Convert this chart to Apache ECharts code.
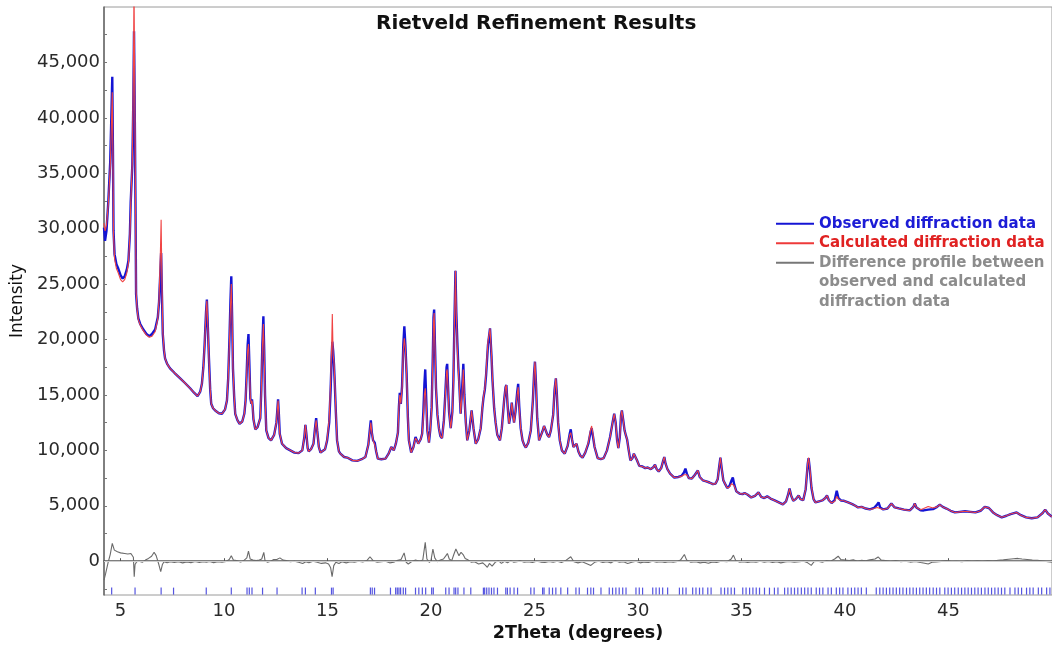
<!DOCTYPE html>
<html>
<head>
<meta charset="utf-8">
<title>Rietveld Refinement Results</title>
<script src="https://cdn.jsdelivr.net/npm/echarts@6/dist/echarts.min.js"></script>
<style>
  html, body { margin: 0; padding: 0; background: #ffffff; }
  #chart { width: 1052px; height: 648px; }
</style>
</head>
<body>
<div id="chart"></div>
<script>
// Powder pattern: [2theta (deg), intensity (counts)]
const observed = [
  [4.20,30100],[4.25,28900],[4.32,29800],[4.41,32500],[4.50,36000],[4.56,40500],[4.60,43700],[4.63,37500],
  [4.66,29800],[4.71,27700],[4.80,26800],[4.89,26400],[5.00,25800],[5.10,25500],[5.20,25700],[5.30,26300],
  [5.38,27100],[5.45,29500],[5.49,32400],[5.57,35800],[5.62,42000],[5.65,47800],[5.68,42000],[5.72,32400],
  [5.75,24100],[5.80,22800],[5.86,21900],[5.95,21400],[6.10,20900],[6.25,20500],[6.39,20300],[6.52,20500],
  [6.67,20900],[6.80,22000],[6.86,23400],[6.92,26000],[6.96,27800],[7.00,24000],[7.04,20500],[7.10,19000],
  [7.15,18300],[7.25,17800],[7.39,17400],[7.60,17000],[7.88,16500],[8.10,16100],[8.36,15600],[8.55,15200],
  [8.72,14900],[8.85,15300],[8.93,16000],[9.00,17500],[9.06,19500],[9.13,22500],[9.17,23600],[9.21,21500],
  [9.27,18300],[9.33,15500],[9.38,14200],[9.47,13800],[9.57,13600],[9.75,13350],[9.90,13300],[10.05,13700],
  [10.14,14500],[10.20,16500],[10.26,20000],[10.31,23500],[10.35,25700],[10.39,22000],[10.43,17400],[10.49,14800],
  [10.54,13300],[10.65,12700],[10.75,12400],[10.88,12600],[10.98,13300],[11.04,14500],[11.09,16800],[11.14,19500],
  [11.18,20500],[11.22,18000],[11.27,14700],[11.32,14200],[11.35,14600],[11.38,14000],[11.42,12800],[11.51,11900],
  [11.62,12100],[11.75,12900],[11.80,15500],[11.85,19500],[11.90,22100],[11.94,19000],[11.98,15000],[12.04,11800],
  [12.15,11100],[12.27,10900],[12.42,11400],[12.53,12500],[12.58,13800],[12.61,14600],[12.65,13200],[12.69,11500],
  [12.80,10600],[13.00,10200],[13.20,10000],[13.40,9800],[13.60,9750],[13.78,10000],[13.88,11200],[13.93,12300],
  [13.97,11600],[14.04,10200],[14.09,9900],[14.20,10100],[14.32,10600],[14.40,12100],[14.45,12900],[14.50,11800],
  [14.58,10300],[14.66,9800],[14.74,9700],[14.88,10100],[14.98,10900],[15.08,12500],[15.15,15500],[15.20,18500],
  [15.23,19800],[15.27,19000],[15.31,17800],[15.35,16000],[15.40,13500],[15.46,10900],[15.55,9900],[15.62,9700],
  [15.80,9400],[15.95,9350],[16.20,9100],[16.43,9050],[16.65,9200],[16.83,9400],[16.97,10500],[17.05,12000],
  [17.09,12700],[17.14,11600],[17.20,10900],[17.28,10700],[17.35,9900],[17.43,9250],[17.60,9200],[17.80,9250],
  [17.95,9700],[18.08,10300],[18.20,10000],[18.30,10600],[18.40,11600],[18.45,14000],[18.49,15200],[18.54,14200],
  [18.60,15800],[18.66,19500],[18.71,21200],[18.76,19500],[18.82,16900],[18.88,13000],[18.93,10900],[19.04,9800],
  [19.15,10300],[19.25,11200],[19.32,10900],[19.38,10600],[19.50,11000],[19.57,11500],[19.63,13500],[19.68,16000],
  [19.72,17300],[19.77,14500],[19.82,11800],[19.90,10700],[19.96,11800],[20.03,13900],[20.08,18000],[20.12,22000],
  [20.15,22700],[20.19,19500],[20.24,15600],[20.31,13200],[20.38,12000],[20.45,11300],[20.53,11100],[20.62,12700],
  [20.69,15100],[20.75,17500],[20.78,17800],[20.82,15800],[20.87,13500],[20.95,12000],[21.03,13500],[21.08,16300],
  [21.13,21500],[21.18,26200],[21.22,22500],[21.27,19800],[21.32,17500],[21.36,16200],[21.43,13300],[21.50,15500],
  [21.56,17800],[21.61,15000],[21.68,12500],[21.75,10900],[21.85,11800],[21.96,13600],[22.05,12000],[22.16,10600],
  [22.28,11000],[22.40,12000],[22.48,13800],[22.53,14700],[22.60,15500],[22.66,16800],[22.75,19500],[22.85,21000],
  [22.92,18500],[22.97,16300],[23.05,13800],[23.12,12500],[23.20,11400],[23.33,10900],[23.42,12000],[23.53,14500],
  [23.60,15700],[23.64,15900],[23.70,14000],[23.77,12400],[23.84,13200],[23.90,14300],[23.96,13200],[24.01,12500],
  [24.08,13500],[24.16,15200],[24.21,16000],[24.26,14000],[24.33,12000],[24.42,10900],[24.50,10500],[24.58,10250],
  [24.70,10700],[24.82,11800],[24.92,14500],[24.98,17000],[25.02,18000],[25.07,16000],[25.13,12900],[25.22,10900],
  [25.30,11300],[25.38,11700],[25.46,12200],[25.55,12300],[25.62,11400],[25.70,11200],[25.79,11800],[25.90,13200],
  [25.97,15500],[26.03,16500],[26.08,15000],[26.14,12500],[26.22,10900],[26.32,10000],[26.46,9700],[26.60,10400],
  [26.70,11500],[26.75,11900],[26.81,11000],[26.88,10300],[26.96,10400],[27.03,10600],[27.12,9900],[27.22,9500],
  [27.32,9350],[27.45,9800],[27.60,10600],[27.70,11600],[27.76,12000],[27.82,11300],[27.90,10300],[28.05,9300],
  [28.20,9200],[28.34,9300],[28.50,10000],[28.65,11200],[28.78,12600],[28.85,13300],[28.92,12500],[28.99,10900],
  [29.05,10200],[29.12,11200],[29.18,13200],[29.22,13600],[29.28,12800],[29.35,11800],[29.42,11300],[29.47,11000],
  [29.55,10000],[29.63,9100],[29.73,9300],[29.80,9700],[29.87,9800],[29.95,9100],[30.06,8600],[30.20,8550],
  [30.35,8400],[30.47,8450],[30.62,8300],[30.75,8500],[30.82,8700],[30.90,8300],[31.00,8100],[31.12,8400],
  [31.22,9100],[31.27,9400],[31.33,8800],[31.42,8300],[31.55,7900],[31.75,7550],[31.95,7600],[32.10,7700],
  [32.22,8000],[32.29,8350],[32.36,7900],[32.45,7500],[32.60,7450],[32.75,7800],[32.89,8180],[32.98,7600],
  [33.13,7300],[33.30,7200],[33.45,7100],[33.53,7250],[33.62,6950],[33.75,7000],[33.85,7400],[33.92,8500],
  [33.98,9350],[34.04,8400],[34.12,7300],[34.20,7000],[34.31,6600],[34.42,6800],[34.52,7300],[34.58,7550],
  [34.65,6900],[34.75,6300],[34.90,6100],[35.05,6050],[35.15,6150],[35.30,6000],[35.47,5750],[35.65,5900],
  [35.82,6200],[35.95,5800],[36.10,5700],[36.24,5850],[36.40,5650],[36.60,5480],[36.80,5300],[37.00,5120],
  [37.15,5400],[37.25,6000],[37.32,6550],[37.40,5900],[37.50,5450],[37.62,5600],[37.76,5930],[37.85,5600],
  [37.98,5500],[38.10,6500],[38.20,8800],[38.24,9300],[38.30,8300],[38.38,6600],[38.48,5600],[38.57,5300],
  [38.75,5400],[38.90,5480],[39.05,5700],[39.13,5930],[39.22,5500],[39.35,5250],[39.50,5500],[39.60,6350],
  [39.68,5700],[39.80,5480],[39.95,5450],[40.15,5300],[40.35,5150],[40.50,5000],[40.63,4850],[40.80,4900],
  [41.00,4750],[41.20,4670],[41.40,4800],[41.55,5100],[41.62,5300],[41.70,4850],[41.85,4670],[42.05,4750],
  [42.24,5200],[42.40,4850],[42.60,4760],[42.85,4650],[43.13,4580],[43.30,4900],[43.37,5200],[43.45,4850],
  [43.65,4600],[43.80,4580],[44.02,4650],[44.25,4700],[44.45,4900],[44.58,5100],[44.72,4900],[44.90,4750],
  [45.10,4550],[45.31,4400],[45.55,4450],[45.80,4500],[46.05,4450],[46.30,4400],[46.55,4550],[46.75,4900],
  [46.84,5030],[46.95,4800],[47.15,4400],[47.35,4150],[47.57,3960],[47.80,4100],[48.00,4250],[48.29,4400],
  [48.50,4150],[48.75,3950],[49.02,3870],[49.30,3950],[49.55,4350],[49.67,4650],[49.80,4300],[50.00,4000]
];

const calculated = [
  [4.20,30500],[4.25,29800],[4.32,30300],[4.41,32300],[4.50,35500],[4.56,39500],[4.60,42300],[4.63,37000],
  [4.66,29500],[4.71,27300],[4.80,26400],[4.89,26000],[5.00,25400],[5.10,25200],[5.20,25400],[5.30,26000],
  [5.38,26900],[5.45,29300],[5.49,32200],[5.57,36200],[5.62,44000],[5.65,52000],[5.68,44000],[5.72,33000],
  [5.75,24300],[5.80,22700],[5.86,21800],[5.95,21300],[6.10,20800],[6.25,20400],[6.39,20200],[6.52,20300],
  [6.67,20700],[6.80,21900],[6.86,23600],[6.92,27500],[6.96,30800],[7.00,25000],[7.04,20700],[7.10,19100],
  [7.15,18300],[7.25,17800],[7.39,17400],[7.60,17000],[7.88,16500],[8.10,16100],[8.36,15600],[8.55,15200],
  [8.72,14900],[8.85,15300],[8.93,16000],[9.00,17500],[9.06,19500],[9.13,22500],[9.17,23500],[9.21,21500],
  [9.27,18300],[9.33,15500],[9.38,14200],[9.47,13800],[9.57,13600],[9.75,13350],[9.90,13300],[10.05,13700],
  [10.14,14500],[10.20,16500],[10.26,19800],[10.31,23000],[10.35,25000],[10.39,21800],[10.43,17400],[10.49,14800],
  [10.54,13300],[10.65,12700],[10.75,12400],[10.88,12600],[10.98,13300],[11.04,14500],[11.09,16600],[11.14,19000],
  [11.18,19600],[11.22,17800],[11.27,14700],[11.32,14200],[11.35,14500],[11.38,14000],[11.42,12800],[11.51,11900],
  [11.62,12100],[11.75,12900],[11.80,15400],[11.85,19200],[11.90,21400],[11.94,18700],[11.98,15000],[12.04,11800],
  [12.15,11100],[12.27,10900],[12.42,11400],[12.53,12500],[12.58,13800],[12.61,14500],[12.65,13200],[12.69,11500],
  [12.80,10600],[13.00,10200],[13.20,10000],[13.40,9800],[13.60,9750],[13.78,10000],[13.88,11200],[13.93,12300],
  [13.97,11600],[14.04,10200],[14.09,9900],[14.20,10100],[14.32,10600],[14.40,12000],[14.45,12700],[14.50,11800],
  [14.58,10300],[14.66,9800],[14.74,9700],[14.88,10100],[14.98,11000],[15.08,12800],[15.15,16200],[15.20,19500],
  [15.23,22300],[15.27,18600],[15.31,18000],[15.35,16200],[15.40,13600],[15.46,10900],[15.55,9900],[15.62,9700],
  [15.80,9400],[15.95,9350],[16.20,9100],[16.43,9050],[16.65,9200],[16.83,9400],[16.97,10500],[17.05,11800],
  [17.09,12500],[17.14,11600],[17.20,10900],[17.28,10500],[17.35,9900],[17.43,9250],[17.60,9200],[17.80,9250],
  [17.95,9700],[18.08,10300],[18.20,10000],[18.30,10600],[18.40,11600],[18.45,14000],[18.49,15000],[18.54,14200],
  [18.60,15600],[18.66,19000],[18.71,20100],[18.76,19200],[18.82,16900],[18.88,13000],[18.93,10900],[19.04,9800],
  [19.15,10300],[19.25,11100],[19.32,10900],[19.38,10600],[19.50,11000],[19.57,11500],[19.63,13000],[19.68,15000],
  [19.72,15600],[19.77,14000],[19.82,11800],[19.90,10700],[19.96,11800],[20.03,13800],[20.08,17800],[20.12,21600],
  [20.15,22400],[20.19,19400],[20.24,15600],[20.31,13200],[20.38,12000],[20.45,11300],[20.53,11100],[20.62,12600],
  [20.69,14900],[20.75,17100],[20.78,17300],[20.82,15600],[20.87,13500],[20.95,12000],[21.03,13400],[21.08,16100],
  [21.13,21300],[21.18,26200],[21.22,22300],[21.27,19200],[21.32,17200],[21.36,16000],[21.43,13300],[21.50,15200],
  [21.56,17300],[21.61,14900],[21.68,12500],[21.75,10900],[21.85,11800],[21.96,13600],[22.05,12000],[22.16,10600],
  [22.28,11000],[22.40,12000],[22.48,13900],[22.53,14800],[22.60,15600],[22.66,17000],[22.75,19800],[22.85,21000],
  [22.92,18700],[22.97,16400],[23.05,13800],[23.12,12500],[23.20,11400],[23.33,10900],[23.42,12000],[23.53,14500],
  [23.60,15700],[23.64,15900],[23.70,14000],[23.77,12400],[23.84,13200],[23.90,14300],[23.96,13200],[24.01,12500],
  [24.08,13500],[24.16,15000],[24.21,15700],[24.26,14000],[24.33,12000],[24.42,10900],[24.50,10500],[24.58,10250],
  [24.70,10700],[24.82,11800],[24.92,14500],[24.98,17000],[25.02,18000],[25.07,16000],[25.13,12900],[25.22,10900],
  [25.30,11300],[25.38,11700],[25.46,12200],[25.55,12300],[25.62,11400],[25.70,11200],[25.79,11800],[25.90,13200],
  [25.97,15500],[26.03,16500],[26.08,15000],[26.14,12500],[26.22,10900],[26.32,10000],[26.46,9700],[26.60,10400],
  [26.70,11400],[26.75,11600],[26.81,11000],[26.88,10300],[26.96,10400],[27.03,10600],[27.12,9900],[27.22,9500],
  [27.32,9350],[27.45,9800],[27.60,10700],[27.70,11800],[27.76,12200],[27.82,11500],[27.90,10300],[28.05,9300],
  [28.20,9200],[28.34,9300],[28.50,10000],[28.65,11200],[28.78,12600],[28.85,13300],[28.92,12500],[28.99,10900],
  [29.05,10200],[29.12,11200],[29.18,13200],[29.22,13600],[29.28,12800],[29.35,11800],[29.42,11300],[29.47,11000],
  [29.55,10000],[29.63,9100],[29.73,9300],[29.80,9700],[29.87,9800],[29.95,9100],[30.06,8600],[30.20,8550],
  [30.35,8400],[30.47,8450],[30.62,8300],[30.75,8500],[30.82,8700],[30.90,8300],[31.00,8100],[31.12,8400],
  [31.22,9100],[31.27,9400],[31.33,8800],[31.42,8300],[31.55,7900],[31.75,7550],[31.95,7600],[32.10,7650],
  [32.22,7800],[32.29,7900],[32.36,7800],[32.45,7500],[32.60,7450],[32.75,7800],[32.89,8180],[32.98,7600],
  [33.13,7300],[33.30,7200],[33.45,7100],[33.53,7250],[33.62,6950],[33.75,7000],[33.85,7400],[33.92,8500],
  [33.98,9350],[34.04,8400],[34.12,7300],[34.20,7000],[34.31,6600],[34.42,6700],[34.52,7000],[34.58,7100],
  [34.65,6800],[34.75,6300],[34.90,6100],[35.05,6050],[35.15,6150],[35.30,6000],[35.47,5750],[35.65,5900],
  [35.82,6200],[35.95,5800],[36.10,5700],[36.24,5850],[36.40,5650],[36.60,5480],[36.80,5300],[37.00,5120],
  [37.15,5400],[37.25,6000],[37.32,6550],[37.40,5900],[37.50,5450],[37.62,5600],[37.76,5930],[37.85,5600],
  [37.98,5500],[38.10,6500],[38.20,8900],[38.24,9350],[38.30,8400],[38.38,6700],[38.48,5600],[38.57,5300],
  [38.75,5400],[38.90,5480],[39.05,5700],[39.13,5930],[39.22,5500],[39.35,5250],[39.50,5400],[39.60,5850],
  [39.68,5600],[39.80,5480],[39.95,5450],[40.15,5300],[40.35,5150],[40.50,5000],[40.63,4850],[40.80,4900],
  [41.00,4750],[41.20,4670],[41.40,4750],[41.55,4850],[41.62,4900],[41.70,4750],[41.85,4670],[42.05,4750],
  [42.24,5200],[42.40,4850],[42.60,4760],[42.85,4650],[43.13,4580],[43.30,4900],[43.37,5200],[43.45,4850],
  [43.65,4650],[43.80,4750],[44.02,4940],[44.25,4800],[44.45,4900],[44.58,5100],[44.72,4900],[44.90,4750],
  [45.10,4550],[45.31,4400],[45.55,4450],[45.80,4500],[46.05,4450],[46.30,4400],[46.55,4550],[46.75,4900],
  [46.84,5030],[46.95,4800],[47.15,4400],[47.35,4150],[47.57,3960],[47.80,4100],[48.00,4250],[48.29,4400],
  [48.50,4150],[48.75,3950],[49.02,3870],[49.30,3950],[49.55,4350],[49.67,4650],[49.80,4300],[50.00,4000]
];

const difference = [
  [4.20,-1700],[4.28,-1100],[4.40,-100],[4.50,600],[4.60,1600],[4.70,1000],[4.85,850],[5.00,750],
  [5.20,700],[5.35,650],[5.50,700],[5.58,650],[5.62,350],[5.66,-1400],[5.70,-300],[5.78,-50],
  [5.90,0],[6.05,-100],[6.20,100],[6.35,250],[6.50,450],[6.62,800],[6.72,500],[6.85,-300],
  [6.94,-950],[7.02,-300],[7.10,-50],[7.25,-150],[7.40,-50],[7.60,-120],[7.80,-40],[8.00,-150],
  [8.20,-60],[8.40,-130],[8.60,-30],[8.80,-120],[9.00,-40],[9.15,-100],[9.30,-20],[9.50,-130],
  [9.70,-50],[9.90,-100],[10.10,-20],[10.25,150],[10.35,500],[10.45,100],[10.60,50],[10.80,-80],
  [10.95,50],[11.10,300],[11.18,900],[11.26,200],[11.40,100],[11.55,50],[11.70,100],[11.82,200],
  [11.92,800],[11.98,50],[12.10,-100],[12.25,0],[12.40,150],[12.55,150],[12.70,300],[12.85,100],
  [13.00,50],[13.20,-50],[13.40,0],[13.60,-100],[13.80,-200],[13.95,-50],[14.10,-150],[14.30,0],
  [14.50,-100],[14.70,-200],[14.90,-150],[15.05,-250],[15.15,-600],[15.22,-1400],[15.30,-400],[15.40,-100],
  [15.55,-200],[15.70,-50],[15.90,-150],[16.10,-50],[16.30,-100],[16.50,0],[16.70,-80],[16.90,50],
  [17.05,400],[17.20,50],[17.40,-100],[17.60,-50],[17.80,0],[18.00,-150],[18.20,-100],[18.35,50],
  [18.55,150],[18.70,750],[18.80,-100],[18.90,-250],[19.05,-50],[19.25,100],[19.45,0],[19.60,100],
  [19.72,1700],[19.80,200],[19.92,-100],[20.00,100],[20.09,1100],[20.18,300],[20.30,-50],[20.45,100],
  [20.60,200],[20.72,500],[20.79,700],[20.88,200],[21.00,50],[21.10,600],[21.20,1100],[21.27,1000],
  [21.35,500],[21.45,800],[21.55,600],[21.65,250],[21.80,100],[21.95,-100],[22.10,-50],[22.30,-250],
  [22.50,-150],[22.62,-350],[22.72,-550],[22.82,-200],[22.95,-450],[23.10,-100],[23.25,50],[23.40,-200],
  [23.55,0],[23.70,-150],[23.85,50],[24.00,-100],[24.15,-50],[24.30,50],[24.50,-100],[24.70,-50],
  [24.90,-120],[25.10,0],[25.30,-80],[25.50,-120],[25.70,-20],[25.90,-100],[26.10,0],[26.30,-120],
  [26.50,50],[26.75,400],[26.90,-50],[27.10,-150],[27.30,-50],[27.50,-200],[27.72,-380],[27.90,-100],
  [28.10,0],[28.30,-120],[28.50,-50],[28.70,-150],[28.90,50],[29.10,-100],[29.30,-50],[29.50,-200],
  [29.70,-100],[29.90,0],[30.10,-150],[30.30,-80],[30.50,-120],[30.70,0],[30.90,-100],[31.10,-50],
  [31.30,-120],[31.50,-50],[31.70,-100],[31.90,-30],[32.05,100],[32.24,600],[32.35,100],[32.55,-100],
  [32.80,-50],[33.00,-150],[33.20,-100],[33.40,-180],[33.60,-60],[33.80,-120],[34.00,0],[34.30,-50],
  [34.50,200],[34.61,550],[34.72,50],[34.90,-80],[35.10,-40],[35.30,-120],[35.50,-50],[35.70,-100],
  [35.90,0],[36.10,-90],[36.30,-30],[36.50,-120],[36.70,-50],[36.90,-150],[37.10,-80],[37.30,-20],
  [37.55,-100],[37.80,-50],[38.00,0],[38.20,-150],[38.37,-380],[38.50,-50],[38.70,0],[38.90,-100],
  [39.10,50],[39.30,0],[39.50,200],[39.67,450],[39.80,150],[40.00,100],[40.20,50],[40.40,120],
  [40.60,0],[40.80,80],[41.00,30],[41.20,120],[41.45,200],[41.60,380],[41.75,100],[41.95,50],
  [42.20,-30],[42.45,50],[42.70,-50],[42.90,0],[43.15,-80],[43.40,-20],[43.65,-120],[43.85,-180],
  [44.02,-250],[44.20,-100],[44.40,-60],[44.65,-20],[44.90,50],[45.15,-30],[45.40,0],[45.65,-50],
  [45.90,30],[46.15,-20],[46.40,40],[46.65,0],[46.90,60],[47.15,20],[47.40,80],[47.65,120],
  [47.90,180],[48.15,220],[48.35,250],[48.55,200],[48.80,150],[49.05,100],[49.30,80],[49.55,20],
  [49.80,-50],[50.00,-100]
];

// Bragg reflection positions (2theta, deg)
const reflections = [
  4.57,5.70,6.96,7.56,9.14,10.35,11.11,11.22,11.35,11.86,12.56,13.77,13.93,14.41,15.19,15.27,
  17.07,17.16,17.27,18.04,18.29,18.37,18.45,18.53,18.66,18.77,19.25,19.41,19.58,19.74,20.03,20.11,
  20.71,20.87,21.11,21.19,21.30,21.59,21.92,22.53,22.59,22.69,22.80,22.92,23.04,23.21,23.61,23.69,
  23.82,24.01,24.18,24.82,24.98,25.39,25.46,25.71,25.87,26.03,26.27,26.60,27.00,27.16,27.56,27.72,
  27.85,28.21,28.61,28.77,28.93,29.09,29.26,29.42,29.90,30.06,30.22,30.71,30.87,31.03,31.19,31.43,
  32.00,32.16,32.32,32.64,32.80,32.97,33.13,33.37,33.53,34.01,34.18,34.34,34.50,34.66,35.06,35.22,
  35.39,35.55,35.71,35.87,36.11,36.35,36.59,36.76,37.08,37.24,37.40,37.56,37.72,37.89,38.05,38.21,
  38.37,38.61,38.77,38.93,39.18,39.34,39.58,39.74,39.90,40.14,40.31,40.47,40.63,40.79,41.03,41.51,
  41.68,41.84,42.00,42.16,42.32,42.48,42.64,42.80,42.97,43.13,43.29,43.45,43.61,43.77,43.93,44.09,
  44.26,44.42,44.58,44.82,44.98,45.14,45.30,45.47,45.63,45.79,45.95,46.11,46.27,46.43,46.59,46.76,
  46.92,47.08,47.24,47.40,47.56,47.72,47.97,48.21,48.37,48.53,48.77,48.93,49.09,49.34,49.50,49.74,49.90
];

const xTickValues = [5, 10, 15, 20, 25, 30, 35, 40, 45];
const yTickValues = [0, 5000, 10000, 15000, 20000, 25000, 30000, 35000, 40000, 45000];
const yMinorTickValues = [-2500, 0, 2500, 5000, 7500, 10000, 12500, 15000, 17500, 20000, 22500,
  25000, 27500, 30000, 32500, 35000, 37500, 40000, 42500, 45000, 47500];

const NAME_OBS = 'Observed diffraction data';
const NAME_CALC = 'Calculated diffraction data';
const NAME_DIFF = 'Difference profile between\nobserved and calculated\ndiffraction data';
const REFLECTION_ROW = -2700;

const FONT = '"DejaVu Sans", "Liberation Sans", Arial, sans-serif';
const chart = echarts.init(document.getElementById('chart'), null, { renderer: 'canvas' });

const legendText = { fontFamily: FONT, fontSize: 15, fontWeight: 'bold', lineHeight: 19.5 };

chart.setOption({
  animation: false,
  backgroundColor: '#ffffff',
  textStyle: { fontFamily: FONT },
  title: {
    text: 'Rietveld Refinement Results',
    left: 376,
    top: 14,
    padding: 0,
    textStyle: { fontFamily: FONT, fontSize: 20, fontWeight: 'bold', color: '#111111' }
  },
  legend: [
    {
      orient: 'vertical',
      left: 776,
      top: 214,
      padding: 0,
      itemGap: 0,
      itemWidth: 38,
      itemHeight: 2,
      icon: 'rect',
      selectedMode: false,
      textStyle: legendText,
      data: [
        { name: NAME_OBS, textStyle: { color: '#1c1cd6' } },
        { name: NAME_CALC, textStyle: { color: '#e02222' } }
      ]
    },
    {
      // the swatch sits beside the first of the three text lines
      orient: 'vertical',
      left: 776,
      top: 214,
      padding: 0,
      itemWidth: 38,
      itemHeight: 2,
      icon: 'rect',
      selectedMode: false,
      formatter: (name) => '\n\n' + name,
      textStyle: Object.assign({}, legendText, { color: '#8c8c8c' }),
      data: [{ name: NAME_DIFF }]
    }
  ],
  grid: {
    left: 104,
    right: 0,
    top: 7,
    bottom: 53,
    show: true,
    borderColor: '#9a9a9a',
    borderWidth: 1,
    containLabel: false
  },
  xAxis: {
    type: 'value',
    min: 4.2,
    max: 50,
    name: '2Theta (degrees)',
    nameLocation: 'middle',
    nameGap: 27,
    nameTextStyle: { fontFamily: FONT, fontSize: 17.5, fontWeight: 'bold', color: '#111111' },
    axisLine: { show: true, lineStyle: { color: '#555555', width: 1.5 } },
    axisTick: { show: true, customValues: xTickValues, length: 3, inside: true, lineStyle: { color: '#555555' } },
    axisLabel: { customValues: xTickValues, margin: 7, fontFamily: FONT, fontSize: 18, color: '#2a2a2a' },
    splitLine: { show: false }
  },
  yAxis: {
    type: 'value',
    min: -3050,
    max: 50000,
    name: 'Intensity',
    nameLocation: 'middle',
    nameRotate: 90,
    nameGap: 73,
    nameTextStyle: { fontFamily: FONT, fontSize: 17, color: '#111111' },
    axisLine: { show: true, lineStyle: { color: '#666666', width: 1.5 } },
    axisTick: { show: true, customValues: yMinorTickValues, length: 3, inside: true, lineStyle: { color: '#777777' } },
    axisLabel: {
      customValues: yTickValues,
      margin: 4,
      fontFamily: FONT,
      fontSize: 18,
      color: '#2a2a2a',
      formatter: (v) => v.toLocaleString('en-US')
    },
    splitLine: { show: false }
  },
  series: [
    {
      name: NAME_OBS,
      type: 'line',
      data: observed,
      color: '#1414d4',
      showSymbol: false,
      lineStyle: { color: '#1414d4', width: 2.4 },
      z: 2
    },
    {
      name: NAME_CALC,
      type: 'line',
      data: calculated,
      color: '#ee3a3a',
      showSymbol: false,
      lineStyle: { color: '#f04444', width: 1.1 },
      z: 3
    },
    {
      name: NAME_DIFF,
      type: 'line',
      data: difference,
      color: '#777777',
      showSymbol: false,
      lineStyle: { color: '#6a6a6a', width: 1.1 },
      z: 2,
      markLine: {
        silent: true,
        symbol: 'none',
        label: { show: false },
        lineStyle: { color: '#cfcfcf', width: 1, type: 'solid' },
        data: [{ yAxis: 0 }]
      }
    },
    {
      name: 'Reflections',
      type: 'scatter',
      data: reflections.map((t) => [t, REFLECTION_ROW]),
      symbol: 'rect',
      symbolSize: [1.2, 7],
      itemStyle: { color: '#2a2ad8' },
      silent: true,
      z: 2
    }
  ]
});
</script>
</body>
</html>
